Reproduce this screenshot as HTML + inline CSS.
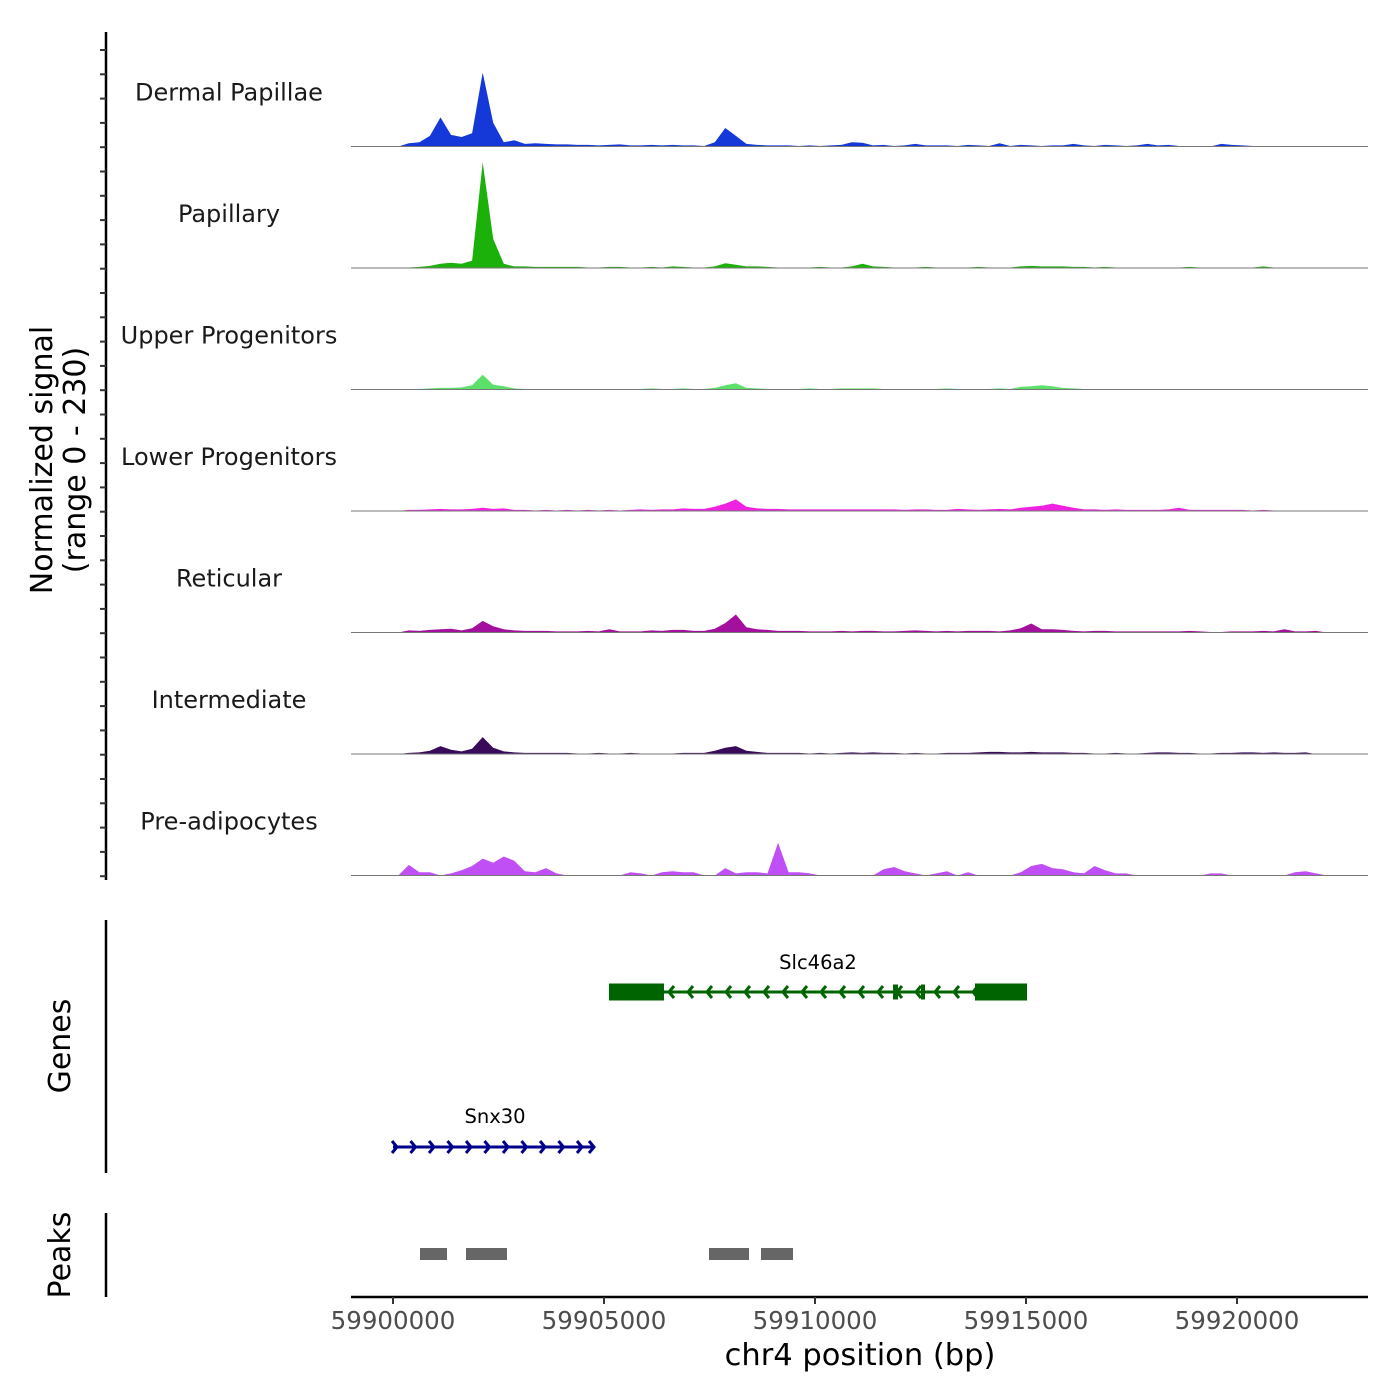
<!DOCTYPE html>
<html><head><meta charset="utf-8"><style>
body{margin:0;background:#fff;}
svg{display:block;font-family:"DejaVu Sans","Liberation Sans",sans-serif;}
</style></head><body>
<svg id="chart" width="1400" height="1400" viewBox="0 0 1400 1400"></svg>
<script>
const trackNames=["Dermal Papillae","Papillary","Upper Progenitors","Lower Progenitors","Reticular","Intermediate","Pre-adipocytes"];
const trackColors=["#1538d8","#1cb00a","#5ce06a","#ee22e0","#a3109e","#3a0a5a","#c050f5"];
const binStart=59900000, binSize=250;
const sigDP=[0,6,8,20,55,22,18,25,140,45,8,12,5,6,5,4,4,3,3,2,3,4,2,2,3,2,3,2,2,1,8,35,20,5,3,2,2,2,1,2,1,2,3,8,7,2,3,1,2,5,2,2,2,1,3,2,1,6,1,3,2,1,2,2,5,2,1,3,2,1,2,5,2,3,1,1,1,0,5,3,2,1,0,0,0,0,0,0,0];
const sigPap=[0,1,2,4,8,10,8,14,200,55,8,3,3,2,2,2,2,2,1,1,2,2,1,1,2,1,3,2,1,1,3,9,6,3,3,2,1,1,1,1,2,1,1,3,8,3,2,1,1,1,2,1,1,1,1,2,1,1,1,3,4,3,3,3,2,2,1,2,1,1,1,1,1,1,1,2,1,1,1,1,1,1,3,1,1,1,1,0,0];
const sigUp=[0,1,1,2,3,3,4,8,28,9,6,2,1,1,1,1,1,1,1,1,1,1,1,1,2,1,1,2,1,1,3,8,12,3,2,1,1,1,1,2,1,1,2,2,2,2,1,1,1,1,1,1,2,1,1,1,1,2,1,5,6,8,6,3,2,1,1,1,1,1,1,1,1,1,1,1,1,1,1,1,1,1,1,1,1,1,0,0,0];
const sigLow=[0,2,2,3,4,3,3,4,6,4,5,2,2,1,2,1,2,1,2,1,2,1,2,3,2,3,3,5,4,4,8,14,22,8,5,4,4,3,3,3,3,3,3,3,3,3,3,3,2,3,3,2,2,4,3,2,3,4,3,6,8,10,14,10,6,3,3,2,3,2,2,2,2,3,6,2,2,2,2,2,2,1,2,1,1,1,1,0,0];
const sigRet=[0,4,3,5,6,7,4,8,22,12,6,4,3,3,3,2,2,2,3,2,6,2,2,2,4,3,5,5,3,3,7,18,34,10,6,5,3,3,3,2,2,2,3,2,3,3,2,2,3,4,3,2,3,2,3,3,3,2,4,8,17,6,6,5,3,2,3,3,2,2,2,2,2,2,2,3,2,1,1,2,2,2,3,2,6,2,2,3,0];
const sigInt=[0,2,3,6,15,8,5,10,32,12,5,3,2,2,2,2,2,1,1,2,1,1,2,1,1,1,1,2,2,2,6,12,15,6,4,2,2,2,2,1,2,1,2,3,2,3,2,2,1,2,1,1,2,2,2,3,4,4,3,3,4,3,3,3,2,2,1,1,2,1,1,2,3,3,2,2,1,1,2,2,3,3,2,3,2,2,3,0,0];
const sigPre=[0,20,6,6,0,4,10,18,32,24,36,28,8,6,14,4,0,0,0,0,0,0,6,4,0,6,8,6,6,0,0,14,4,6,6,4,62,6,6,4,0,0,0,0,0,0,12,16,8,4,0,4,8,0,6,0,0,0,0,6,18,22,14,12,6,4,18,10,4,4,0,0,0,0,0,0,0,4,4,0,0,0,0,0,0,6,8,4,0];
const signals=[sigDP,sigPap,sigUp,sigLow,sigRet,sigInt,sigPre];
const xTicks=[59900000,59905000,59910000,59915000,59920000];
const slcExons=[[59905118,59906422],[59911848,59911967],[59912512,59912607],[59913791,59915024]];
const slcRange=[59905118,59915024];
const snxRange=[59900000,59904763];
const peakStarts=[59900640,59901730,59907488,59908720];
const peakEnds=[59901280,59902701,59908436,59909479];

const NS="http://www.w3.org/2000/svg";
const svg=document.getElementById("chart");
function mk(tag,attrs,parent){const e=document.createElementNS(NS,tag);for(const k in attrs)e.setAttribute(k,attrs[k]);(parent||svg).appendChild(e);return e;}
const X0=351,X1=1368;
const pxPerBp=0.0422;
function xScale(bp){return 393+(bp-59900000)*pxPerBp;}
const trackTop=25,trackH=121.5,yMax=230;
function yScale(v,t){const base=trackTop+trackH*(t+1);return base-v/yMax*trackH;}

signals.forEach((arr,t)=>{
  const g=mk("g",{});
  
  
  const base=yScale(0,t);
  let d="M"+xScale(binStart)+","+base;
  arr.forEach((v,i)=>{d+=" L"+xScale(binStart+(i+0.5)*binSize).toFixed(1)+","+yScale(v,t).toFixed(1);});
  d+=" L"+xScale(binStart+arr.length*binSize)+","+base+" Z";
  const p=mk("path",{d:d,fill:trackColors[t]},g);
  
  
  const bl=mk("line",{x1:X0,x2:X1,y1:base,y2:base,stroke:"#777","stroke-width":1},g);
  
  
  const lab=mk("text",{x:229,y:base-46,"text-anchor":"middle","font-size":"24",fill:"#1a1a1a"},g);
  lab.textContent=trackNames[t];
  
  
});

const ax=mk("line",{x1:106,x2:106,y1:32,y2:880,stroke:"#000","stroke-width":2.5});


for(let i=0;i<35;i++){
  const y=50+i*trackH/5;
  const tk=mk("line",{x1:100,x2:106,y1:y,y2:y,stroke:"#333","stroke-width":2});
  
  
}
const yt=mk("text",{transform:"translate(52,460) rotate(-90)","text-anchor":"middle","font-size":"30",fill:"#000"});


yt.innerHTML='<tspan x="0" dy="0">Normalized signal</tspan><tspan x="0" dy="33">(range 0 - 230)</tspan>';

const gax=mk("line",{x1:106,x2:106,y1:920,y2:1173,stroke:"#000","stroke-width":2.5});


const gt=mk("text",{transform:"translate(70,1046) rotate(-90)","text-anchor":"middle","font-size":"30",fill:"#000"});
gt.textContent="Genes";



const slc=mk("g",{});


const gy=992;
mk("line",{x1:xScale(slcRange[0]),x2:xScale(slcRange[1]),y1:gy,y2:gy,stroke:"#006400","stroke-width":3},slc);
for(let x=xScale(slcRange[0])+60;x<xScale(slcRange[1])-50;x+=19){
  mk("polyline",{points:(x+5)+","+(gy-6)+" "+x+","+gy+" "+(x+5)+","+(gy+6),fill:"none",stroke:"#006400","stroke-width":3},slc);
}
slcExons.forEach(e=>{
  const h=(e[1]-e[0]>500)?17:15;
  mk("rect",{x:xScale(e[0]),y:gy-h/2,width:Math.max(4,xScale(e[1])-xScale(e[0])),height:h,fill:"#006400"},slc);
});
const sl=mk("text",{x:818,y:969,"text-anchor":"middle","font-size":"19.5",fill:"#000"},slc);
sl.textContent="Slc46a2";

const snx=mk("g",{});


const sy=1147;
mk("line",{x1:xScale(snxRange[0]),x2:xScale(snxRange[1]),y1:sy,y2:sy,stroke:"#00008b","stroke-width":3},snx);
for(let x=xScale(snxRange[0])+4;x<=xScale(snxRange[1])+1;x+=18.5){
  mk("polyline",{points:(x-5)+","+(sy-6)+" "+x+","+sy+" "+(x-5)+","+(sy+6),fill:"none",stroke:"#00008b","stroke-width":3},snx);
}
mk("polyline",{points:(xScale(snxRange[1])-5)+","+(sy-6)+" "+xScale(snxRange[1])+","+sy+" "+(xScale(snxRange[1])-5)+","+(sy+6),fill:"none",stroke:"#00008b","stroke-width":3},snx);
const sn=mk("text",{x:495,y:1123,"text-anchor":"middle","font-size":"19.5",fill:"#000"},snx);
sn.textContent="Snx30";

const pax=mk("line",{x1:106,x2:106,y1:1213,y2:1297,stroke:"#000","stroke-width":2.5});


const pt=mk("text",{transform:"translate(70,1255) rotate(-90)","text-anchor":"middle","font-size":"30",fill:"#000"});
pt.textContent="Peaks";


peakStarts.forEach((s,i)=>{
  const r=mk("rect",{x:xScale(s),y:1248,width:xScale(peakEnds[i])-xScale(s),height:12,fill:"#666"});
  
  
});

const xa=mk("line",{x1:X0,x2:X1,y1:1297,y2:1297,stroke:"#000","stroke-width":2.5});


xTicks.forEach(t=>{
  const x=xScale(t);
  const tk=mk("line",{x1:x,x2:x,y1:1297,y2:1304,stroke:"#333","stroke-width":2});
  
  
  const tl=mk("text",{x:x,y:1329,"text-anchor":"middle","font-size":"24.5",fill:"#4d4d4d"});
  tl.textContent=t;
  
  
});
const xt=mk("text",{x:860,y:1365,"text-anchor":"middle","font-size":"30.5",fill:"#000"});
xt.textContent="chr4 position (bp)";


</script>
</body></html>
